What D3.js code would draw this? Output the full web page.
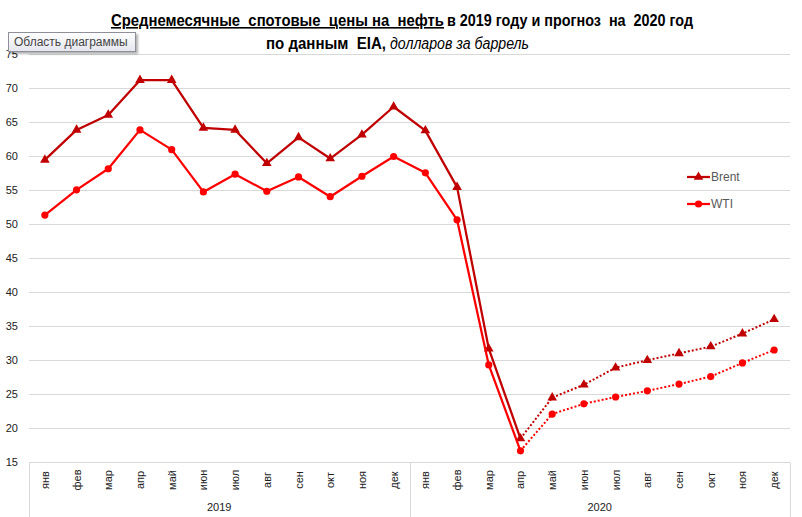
<!DOCTYPE html>
<html><head><meta charset="utf-8">
<script src="https://cdn.jsdelivr.net/npm/d3@7"></script>
<style>body{margin:0;background:#fff}svg{display:block}</style>
</head><body><svg id="c" width="802" height="517"></svg>
<script>
const months = ["янв","фев","мар","апр","май","июн","июл","авг","сен","окт","ноя","дек"];
const years = ["2019","2020"];
const brent = [59.4,63.8,66.0,71.1,71.1,64.1,63.8,58.9,62.7,59.6,63.1,67.2,
               63.7,55.4,31.7,18.5,24.5,26.4,28.9,30.0,31.0,32.0,33.9,36.0];
const wti   = [51.3,55.0,58.1,63.8,60.9,54.7,57.3,54.8,56.9,54.0,57.0,59.9,
               57.5,50.6,29.3,16.7,22.1,23.6,24.6,25.5,26.5,27.6,29.6,31.5];
const yTicks = [15,20,25,30,35,40,45,50,55,60,65,70,75];
const forecastStart = 15; // апр 2020

const svg = d3.select("#c");
const cats = d3.range(24);
const x = d3.scaleBand().domain(cats).range([29,790]);
const y = d3.scaleLinear().domain([15,75]).range([462.4,53.6]);
const cx = i => x(i) + x.bandwidth()/2;

// gridlines
svg.append("g").selectAll("line").data(yTicks).join("line")
  .attr("x1",29).attr("x2",790).attr("y1",d=>Math.round(y(d))+0.5).attr("y2",d=>Math.round(y(d))+0.5)
  .attr("stroke","#d9d9d9").attr("stroke-width",1);
// y labels
svg.append("g").selectAll("text").data(yTicks).join("text")
  .attr("x",18).attr("y",d=>y(d)+4).attr("text-anchor","end")
  .attr("font-family","Liberation Sans, Arial, sans-serif").attr("font-size",11).attr("fill","#222")
  .text(d=>d);

// category box
const by = Math.round(y(15))+0.5;
const g2 = svg.append("g").attr("stroke","#d9d9d9").attr("stroke-width",1);
[x(0), x(12), x(23)+x.bandwidth()].forEach(v=>{
  g2.append("line").attr("x1",Math.round(v)+0.5).attr("x2",Math.round(v)+0.5).attr("y1",by).attr("y2",517);
});
// month labels
svg.append("g").selectAll("text").data(cats).join("text")
  .attr("transform",d=>`translate(${cx(d)+4},480) rotate(-90)`)
  .attr("text-anchor","middle").attr("font-family","Liberation Sans, Arial, sans-serif")
  .attr("font-size",11).attr("fill","#222").text(d=>months[d%12]);
// year labels
svg.append("g").selectAll("text").data(years).join("text")
  .attr("x",(d,i)=> (x(i*12) + x(i*12+11)+x.bandwidth())/2).attr("y",511)
  .attr("text-anchor","middle").attr("font-family","Liberation Sans, Arial, sans-serif")
  .attr("font-size",11).attr("fill","#222").text(d=>d);

const line = d3.line().x(d=>cx(d.i)).y(d=>y(d.v));
const series = [
  {name:"Brent", data:brent, color:"#c00000", marker:"tri"},
  {name:"WTI", data:wti, color:"#ff0000", marker:"dot"}
];
const tri = d3.symbol().type(d3.symbolTriangle).size(40);
series.forEach(s=>{
  const pts = s.data.map((v,i)=>({i,v}));
  svg.append("path").attr("d",line(pts.slice(0,forecastStart+1))).attr("fill","none")
    .attr("stroke",s.color).attr("stroke-width",2.25).attr("stroke-linejoin","round");
  svg.append("path").attr("d",line(pts.slice(forecastStart))).attr("fill","none")
    .attr("stroke",s.color).attr("stroke-width",2).attr("stroke-dasharray","2,2");
  const mg = svg.append("g");
  pts.forEach(p=>{
    if(s.marker==="tri") mg.append("path").attr("d",tri()).attr("transform",`translate(${cx(p.i)},${y(p.v)})`).attr("fill",s.color);
    else mg.append("circle").attr("cx",cx(p.i)).attr("cy",y(p.v)).attr("r",3.6).attr("fill",s.color);
  });
});

// legend
const leg = svg.append("g");
series.forEach((s,k)=>{
  const ly = 177 + k*27;
  leg.append("line").attr("x1",687).attr("x2",710).attr("y1",ly).attr("y2",ly).attr("stroke",s.color).attr("stroke-width",2.25);
  if(s.marker==="tri") leg.append("path").attr("d",tri()).attr("transform",`translate(698.5,${ly})`).attr("fill",s.color);
  else leg.append("circle").attr("cx",698.5).attr("cy",ly).attr("r",3.6).attr("fill",s.color);
  leg.append("text").attr("x",711).attr("y",ly+4).attr("font-family","Liberation Sans, Arial, sans-serif")
    .attr("font-size",12).attr("fill","#595959").text(s.name);
});

// title
const tf = "'Liberation Sans Narrow', 'Liberation Sans', Arial, sans-serif";
function tt(txt, x0, y0, len, opts){
  const t = svg.append("text").attr("x",x0).attr("y",y0)
    .attr("font-family",tf).attr("font-size",16).attr("fill","#000")
    .attr("xml:space","preserve").style("white-space","pre")
    .attr("textLength",len).attr("lengthAdjust","spacingAndGlyphs").text(txt);
  if(opts.bold) t.attr("font-weight","bold");
  if(opts.italic) t.attr("font-style","italic");
  if(opts.under) t.attr("text-decoration","underline");
  return t;
}
tt("Среднемесячные  спотовые  цены на  нефть", 111, 26, 333, {bold:true, under:true});
tt("в 2019 году и прогноз  на  2020 год", 447, 26, 246, {bold:true});
tt("по данным  EIA,", 266, 49, 120, {bold:true});
tt("долларов за баррель", 390, 49, 139, {italic:true});

// tooltip box
const defs = svg.append("defs");
const gr = defs.append("linearGradient").attr("id","tg").attr("x1",0).attr("y1",0).attr("x2",0).attr("y2",1);
gr.append("stop").attr("offset","0%").attr("stop-color","#ffffff");
gr.append("stop").attr("offset","100%").attr("stop-color","#e4e5ee");
const fl = defs.append("filter").attr("id","sh").attr("x","-10%").attr("y","-20%").attr("width","130%").attr("height","160%");
fl.append("feDropShadow").attr("dx",2).attr("dy",2).attr("stdDeviation",1.2).attr("flood-color","#000").attr("flood-opacity",0.3);
svg.append("rect").attr("x",8.5).attr("y",32.5).attr("width",127).attr("height",19).attr("fill","url(#tg)")
  .attr("stroke","#8e8f99").attr("filter","url(#sh)");
svg.append("text").attr("x",14).attr("y",46).attr("font-family","'Liberation Sans Narrow', 'Liberation Sans', Arial, sans-serif")
  .attr("font-size",12).attr("fill","#444").text("Область диаграммы");
</script></body></html>
